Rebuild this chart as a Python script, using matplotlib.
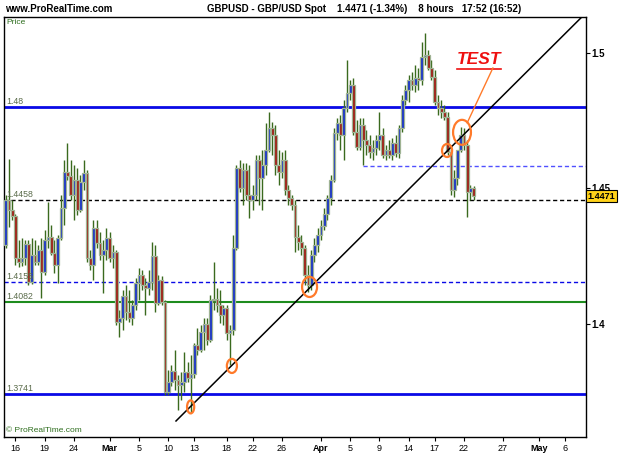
import numpy as np
import matplotlib
matplotlib.use('Agg')
import matplotlib.pyplot as plt
from matplotlib.patches import Ellipse
import matplotlib.transforms as mtrans

plt.rcParams['font.family'] = ['Liberation Sans', 'DejaVu Sans']

# 8h candles GBPUSD
opens = [1.4291, 1.4457, 1.4420, 1.4398, 1.4243, 1.4228, 1.4243, 1.4295, 1.4155, 1.4254,
         1.4228, 1.4273, 1.4191, 1.4309, 1.4320, 1.4261, 1.4217, 1.4317, 1.4427, 1.4560,
         1.4545, 1.4475, 1.4531, 1.4420, 1.4523, 1.4556, 1.4243, 1.4217, 1.4354, 1.4298,
         1.4254, 1.4273, 1.4317, 1.4243, 1.4265, 1.4007, 1.4022, 1.4103, 1.4044, 1.4022,
         1.4070, 1.4151, 1.4180, 1.4144, 1.4132, 1.4155, 1.4250, 1.4077, 1.4162, 1.4081,
         1.3749, 1.3786, 1.3827, 1.3793, 1.3775, 1.3786, 1.3823, 1.3801, 1.3815, 1.3922,
         1.3904, 1.3970, 1.4000, 1.3941, 1.4088, 1.4092, 1.4070, 1.4033, 1.4059, 1.3967,
         1.3978, 1.4280, 1.4575, 1.4501, 1.4567, 1.4475, 1.4457, 1.4475, 1.4604, 1.4538,
         1.4586, 1.4641, 1.4722, 1.4696, 1.4586, 1.4560, 1.4604, 1.4494, 1.4464, 1.4438,
         1.4320, 1.4302, 1.4280, 1.4180, 1.4144, 1.4254, 1.4291, 1.4328, 1.4361, 1.4405,
         1.4464, 1.4531, 1.4704, 1.4741, 1.4696, 1.4796, 1.4851, 1.4881, 1.4707, 1.4652,
         1.4733, 1.4678, 1.4660, 1.4634, 1.4649, 1.4678, 1.4696, 1.4623, 1.4641, 1.4623,
         1.4667, 1.4630, 1.4722, 1.4825, 1.4862, 1.4899, 1.4881, 1.4907, 1.4899, 1.4984,
         1.4991, 1.4943, 1.4910, 1.4818, 1.4796, 1.4781, 1.4763, 1.4634, 1.4494, 1.4538,
         1.4641, 1.4696, 1.4660, 1.4486, 1.4501]
highs = [1.4475, 1.4608, 1.4457, 1.4405, 1.4309, 1.4317, 1.4309, 1.4309, 1.4317, 1.4309,
         1.4291, 1.4317, 1.4346, 1.4449, 1.4365, 1.4309, 1.4328, 1.4475, 1.4604, 1.4667,
         1.4604, 1.4586, 1.4575, 1.4549, 1.4604, 1.4567, 1.4273, 1.4383, 1.4383, 1.4339,
         1.4309, 1.4354, 1.4339, 1.4291, 1.4273, 1.4051, 1.4125, 1.4144, 1.4125, 1.4088,
         1.4169, 1.4206, 1.4199, 1.4169, 1.4199, 1.4302, 1.4291, 1.4180, 1.4177, 1.4088,
         1.3830, 1.3849, 1.3904, 1.3812, 1.3823, 1.3897, 1.3860, 1.3886, 1.3930, 1.3985,
         1.3996, 1.4022, 1.4022, 1.4107, 1.4228, 1.4132, 1.4125, 1.4070, 1.4070, 1.3996,
         1.4328, 1.4586, 1.4604, 1.4593, 1.4593, 1.4586, 1.4512, 1.4623, 1.4623, 1.4641,
         1.4741, 1.4781, 1.4744, 1.4733, 1.4641, 1.4634, 1.4641, 1.4512, 1.4475, 1.4457,
         1.4365, 1.4328, 1.4291, 1.4217, 1.4273, 1.4317, 1.4354, 1.4383, 1.4427, 1.4475,
         1.4549, 1.4722, 1.4759, 1.4770, 1.4825, 1.4973, 1.4899, 1.4907, 1.4752, 1.4759,
         1.4759, 1.4715, 1.4696, 1.4678, 1.4696, 1.4781, 1.4722, 1.4660, 1.4678, 1.4685,
         1.4696, 1.4733, 1.4844, 1.4881, 1.4918, 1.4929, 1.4954, 1.4943, 1.5039, 1.5072,
         1.5010, 1.4973, 1.4936, 1.4844, 1.4825, 1.4807, 1.4781, 1.4660, 1.4567, 1.4641,
         1.4726, 1.4722, 1.4678, 1.4512, 1.4508]
lows = [1.4280, 1.4357, 1.4383, 1.4217, 1.4210, 1.4214, 1.4217, 1.4144, 1.4147, 1.4217,
        1.4217, 1.4096, 1.4180, 1.4280, 1.4254, 1.4188, 1.4151, 1.4309, 1.4365, 1.4531,
        1.4457, 1.4383, 1.4402, 1.4413, 1.4494, 1.4228, 1.4199, 1.4162, 1.4280, 1.4236,
        1.4114, 1.4236, 1.4228, 1.4206, 1.3996, 1.3952, 1.3978, 1.4015, 1.4007, 1.3996,
        1.4051, 1.4088, 1.4125, 1.4033, 1.4107, 1.4125, 1.4044, 1.4070, 1.4070, 1.3738,
        1.3738, 1.3771, 1.3757, 1.3683, 1.3720, 1.3749, 1.3786, 1.3672, 1.3801, 1.3886,
        1.3897, 1.3904, 1.3922, 1.3933, 1.4051, 1.4044, 1.4003, 1.3996, 1.3941, 1.3849,
        1.3959, 1.4273, 1.4486, 1.4438, 1.4457, 1.4390, 1.4420, 1.4457, 1.4438, 1.4420,
        1.4549, 1.4634, 1.4623, 1.4549, 1.4512, 1.4538, 1.4475, 1.4438, 1.4420, 1.4265,
        1.4273, 1.4254, 1.4144, 1.4118, 1.4125, 1.4228, 1.4265, 1.4309, 1.4346, 1.4383,
        1.4438, 1.4523, 1.4678, 1.4641, 1.4604, 1.4781, 1.4825, 1.4696, 1.4641, 1.4641,
        1.4586, 1.4623, 1.4612, 1.4604, 1.4623, 1.4641, 1.4612, 1.4604, 1.4612, 1.4604,
        1.4615, 1.4612, 1.4707, 1.4807, 1.4818, 1.4862, 1.4855, 1.4862, 1.4881, 1.4954,
        1.4936, 1.4899, 1.4807, 1.4770, 1.4759, 1.4752, 1.4623, 1.4475, 1.4468, 1.4512,
        1.4634, 1.4641, 1.4394, 1.4457, 1.4457]
closes = [1.4457, 1.4420, 1.4398, 1.4243, 1.4228, 1.4243, 1.4295, 1.4155, 1.4254, 1.4228,
          1.4273, 1.4191, 1.4309, 1.4320, 1.4261, 1.4217, 1.4317, 1.4427, 1.4560, 1.4545,
          1.4475, 1.4531, 1.4420, 1.4523, 1.4556, 1.4243, 1.4217, 1.4354, 1.4298, 1.4254,
          1.4273, 1.4317, 1.4243, 1.4265, 1.4007, 1.4022, 1.4103, 1.4044, 1.4022, 1.4070,
          1.4151, 1.4180, 1.4144, 1.4132, 1.4155, 1.4250, 1.4077, 1.4162, 1.4081, 1.3749,
          1.3786, 1.3827, 1.3793, 1.3775, 1.3786, 1.3823, 1.3801, 1.3815, 1.3922, 1.3904,
          1.3970, 1.4000, 1.3941, 1.4088, 1.4092, 1.4070, 1.4033, 1.4059, 1.3967, 1.3978,
          1.4280, 1.4575, 1.4501, 1.4567, 1.4475, 1.4457, 1.4475, 1.4604, 1.4538, 1.4586,
          1.4641, 1.4722, 1.4696, 1.4586, 1.4560, 1.4604, 1.4494, 1.4464, 1.4438, 1.4320,
          1.4302, 1.4280, 1.4180, 1.4144, 1.4254, 1.4291, 1.4328, 1.4361, 1.4405, 1.4464,
          1.4531, 1.4704, 1.4741, 1.4696, 1.4796, 1.4851, 1.4881, 1.4707, 1.4652, 1.4733,
          1.4678, 1.4660, 1.4634, 1.4649, 1.4678, 1.4696, 1.4623, 1.4641, 1.4623, 1.4667,
          1.4630, 1.4722, 1.4825, 1.4862, 1.4899, 1.4881, 1.4907, 1.4899, 1.4984, 1.4991,
          1.4943, 1.4910, 1.4818, 1.4796, 1.4781, 1.4763, 1.4634, 1.4494, 1.4538, 1.4641,
          1.4696, 1.4660, 1.4486, 1.4501, 1.4471]

# horizontal levels
levels = [1.48, 1.4458, 1.4155, 1.4082, 1.3741]
level_labels = ['1.48', '1.4458', '1.4155', '1.4082', '1.3741']
level_colors = ['#0a0ae6', 'black', '#0a0ae6', '#1e8c1e', '#0a0ae6']
level_styles = ['-', (0, (3, 2)), (0, (3, 2)), '-', '-']
level_widths = [2.0, 1.0, 1.0, 1.5, 2.0]
upper_dash = 1.4582
upper_dash_start = 110

# trend line (bar index, price)
trend_x = [52.4, 177.6]
trend_y = [1.3642, 1.5135]

# orange circles: bar index, price, width (bars), height (price)
circ_x = [56.9, 69.6, 93.5, 135.8, 140.4]
circ_y = [1.3694, 1.3845, 1.4136, 1.4639, 1.4706]
circ_w = [2.2, 3.1, 4.6, 3.1, 5.5]
circ_h = [0.0048, 0.0052, 0.0074, 0.0048, 0.0092]

tick_pos = [3, 12, 21, 32, 41, 50, 58, 68, 76, 85, 97, 106, 115, 124, 132, 141, 153, 164, 172]
tick_labels = ['16', '19', '24', 'Mar', '5', '10', '13', '18', '22', '26', 'Apr', '5', '9',
               '14', '17', '22', '27', 'May', '6']

last_price = 1.4471

fig = plt.figure(figsize=(6.25, 4.69), dpi=100)
ax = fig.add_axes([4/625, 1 - 437/469, 582/625, 420/469])

x = np.arange(len(closes))
o = np.array(opens); c = np.array(closes)
h = np.array(highs); l = np.array(lows)
up = c >= o

ax.vlines(x, l, h, color='#3a6a1e', lw=1.0, zorder=3)
body_lo = np.minimum(o, c)
body_h = np.maximum(np.abs(c - o), 0.0004)
cols = np.where(up, '#1630c8', '#9e1a12')
ax.bar(x, body_h, bottom=body_lo, width=0.88, color=cols,
       edgecolor='#9fb393', linewidth=0.9, zorder=4)

for lev, lab, col, ls, lw in zip(levels, level_labels, level_colors, level_styles, level_widths):
    ax.axhline(lev, color=col, ls=ls, lw=lw, zorder=2)
    ax.text(0.3, lev + 0.0004, lab, fontsize=6.3, color='#5a6b4a', va='bottom', ha='left', zorder=6)

ax.hlines(upper_dash, upper_dash_start, 179, color='#5050ff', ls=(0, (3, 2)), lw=1.0, zorder=2)

ax.plot(trend_x, trend_y, color='black', lw=1.1, zorder=5)

for cx, cy, w, hh in zip(circ_x, circ_y, circ_w, circ_h):
    ax.add_patch(Ellipse((cx, cy), w, hh, fill=False, ec='#ff7a2a', lw=1.6, zorder=7))

# TEST label with underline and pointer
ax.text(145.6, 1.4973, 'TEST', fontsize=12.5, fontweight='bold', style='italic',
        color='#ee1010', ha='center', va='center', zorder=8)
ax.plot([138.9, 152.4], [1.4939, 1.4939], color='#ee1010', lw=1.2, zorder=8)
ax.plot([149.9, 142.0], [1.4943, 1.4741], color='#ff7a2a', lw=1.0, zorder=8)

ax.set_xlim(-0.52, 178.55)
ax.set_ylim(1.3583, 1.5131)

ax.yaxis.tick_right()
ax.set_yticks([1.4, 1.45, 1.5])
ax.set_yticklabels(['1.4', '1.45', '1.5'], fontsize=7, fontweight='bold')
ax.tick_params(axis='y', direction='out', length=3, pad=1)
ax.set_xticks(tick_pos)
ax.set_xticklabels(tick_labels, fontsize=6.5)
for t in ax.get_xticklabels():
    if t.get_text() in ('Mar', 'Apr', 'May'):
        t.set_fontweight('bold')
ax.tick_params(axis='x', direction='out', length=3, pad=2)
for s in ax.spines.values():
    s.set_linewidth(1.0)

tr = mtrans.blended_transform_factory(ax.transAxes, ax.transData)
ax.text(1.003, last_price, '1.4471', transform=tr, fontsize=6.5, fontweight='bold',
        va='center', ha='left', clip_on=False, zorder=10,
        bbox=dict(boxstyle='square,pad=0.15', fc='#ffd21a', ec='black', lw=0.8))

ax.text(0.004, 0.995, 'Price', transform=ax.transAxes, fontsize=6, color='#2e6e1e',
        va='top', ha='left')
ax.text(0.004, 0.008, '\u00a9 ProRealTime.com', transform=ax.transAxes, fontsize=6,
        color='#2e6e1e', va='bottom', ha='left')

fig.text(5/625, 1 - 9/469, 'www.ProRealTime.com', fontsize=7, fontweight='bold',
         va='center', ha='left')
fig.text(364/625, 1 - 9/469, 'GBPUSD - GBP/USD Spot    1.4471 (-1.34%)    8 hours   17:52 (16:52)',
         fontsize=7, fontweight='bold', va='center', ha='center')

fig.savefig('out.png', dpi=100)
